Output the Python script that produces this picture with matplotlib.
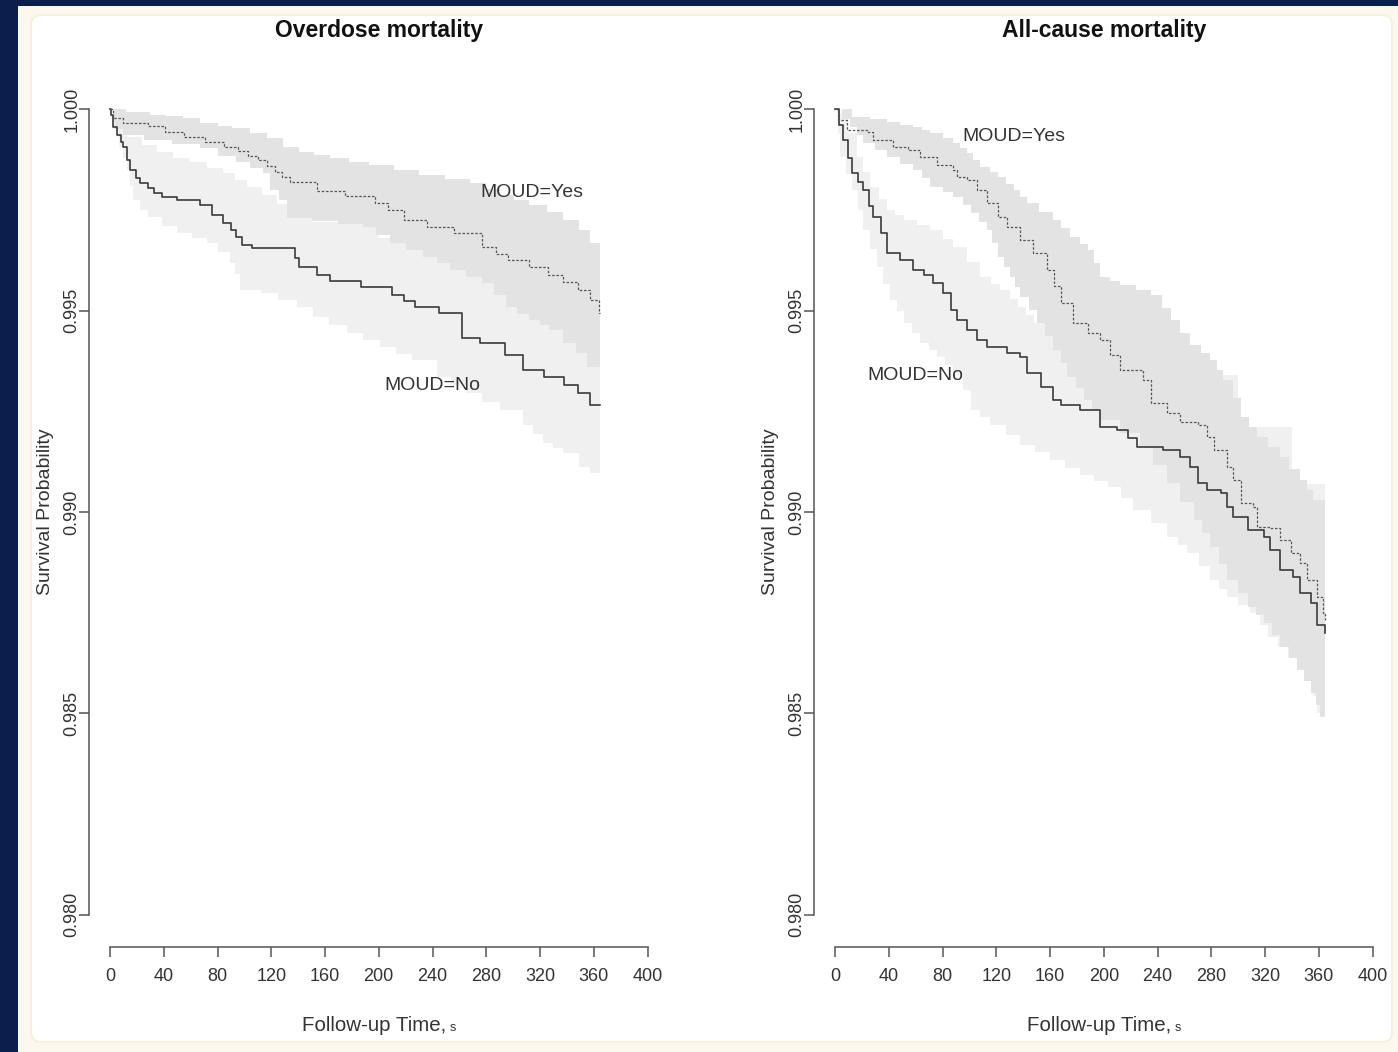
import numpy as np
import matplotlib
matplotlib.use("Agg")
import matplotlib.pyplot as plt
from matplotlib.patches import Rectangle, FancyBboxPatch

plt.rcParams['font.family'] = ['Liberation Sans', 'DejaVu Sans']

# ---- Overdose mortality (Kaplan-Meier) ----
od_yes_t = [0, 2, 10, 28, 41, 55, 71, 85, 95, 103, 110, 117, 123, 128, 134, 154, 175, 197, 207, 219,
            236, 256, 277, 287, 296, 312, 326, 337, 348, 357, 364, 365]
od_yes_s = [1.0, 0.99978, 0.99965, 0.99958, 0.99943, 0.9993, 0.99918, 0.99905, 0.99896, 0.99885,
            0.99873, 0.9986, 0.99844, 0.99832, 0.99819, 0.99797, 0.99785, 0.99767, 0.99749, 0.99725,
            0.99707, 0.99692, 0.99658, 0.9964, 0.99625, 0.99608, 0.99588, 0.99571, 0.99551, 0.99526,
            0.99494, 0.99494]
od_no_t = [0, 1, 2, 5, 8, 10, 13, 15, 19, 22, 28, 33, 39, 50, 67, 76, 84, 90, 94, 98, 106, 138, 141,
           154, 164, 187, 210, 219, 227, 245, 262, 275, 294, 307, 323, 338, 348, 357, 365]
od_no_s = [1.0, 0.99985, 0.99955, 0.99935, 0.99918, 0.99906, 0.99873, 0.99849, 0.99829, 0.99816,
           0.99804, 0.99792, 0.99782, 0.99774, 0.99762, 0.99737, 0.99717, 0.997, 0.99682, 0.99663,
           0.99655, 0.9963, 0.99608, 0.99588, 0.99573, 0.99558, 0.99538, 0.99524, 0.99509, 0.99494,
           0.99432, 0.99419, 0.9939, 0.99352, 0.99335, 0.99315, 0.99295, 0.99266, 0.99266]
# confidence bands
od_yes_up_t = [0, 12, 30, 42, 54, 67, 80, 91, 104, 117, 129, 141, 152, 164, 178, 193, 211, 230, 249,
               268, 280, 290, 301, 312, 325, 337, 349, 357, 365]
od_yes_up_s = [1.0, 0.99993, 0.99985, 0.99982, 0.99978, 0.99965, 0.99959, 0.99953, 0.9994, 0.99928,
               0.99906, 0.99893, 0.99886, 0.99878, 0.9987, 0.99861, 0.99849, 0.99836, 0.99826,
               0.99816, 0.99801, 0.99787, 0.99775, 0.99762, 0.99744, 0.99725, 0.997, 0.99667, 0.99667]
od_yes_lo_t = [0, 2, 4, 10, 25, 46, 67, 80, 94, 104, 114, 119, 126, 132, 150, 170, 188, 198, 208,
               220, 233, 243, 253, 265, 277, 286, 295, 303, 312, 320, 327, 337, 347, 355, 365]
od_yes_lo_s = [1.0, 0.9997, 0.9995, 0.99935, 0.99923, 0.99913, 0.99903, 0.99885, 0.99868, 0.99855,
               0.99841, 0.99799, 0.99775, 0.9973, 0.99722, 0.99714, 0.99707, 0.99687, 0.99667,
               0.9965, 0.99633, 0.99617, 0.996, 0.99584, 0.99568, 0.99538, 0.99509, 0.99492,
               0.99476, 0.99464, 0.99452, 0.99419, 0.99395, 0.9936, 0.99347]
od_no_up_t = [0, 4, 8, 13, 24, 35, 47, 59, 72, 84, 93, 102, 113, 124, 150, 200, 250, 300, 365]
od_no_up_s = [1.0, 0.9998, 0.9996, 0.99931, 0.9991, 0.99893, 0.9988, 0.99868, 0.99855, 0.99841,
              0.99824, 0.99806, 0.99786, 0.99765, 0.9972, 0.9968, 0.9963, 0.9958, 0.9952]
od_no_lo_t = [0, 2, 5, 7, 10, 13, 15, 17, 22, 28, 39, 50, 61, 72, 80, 89, 93, 97, 112, 125, 139, 151,
              163, 176, 188, 201, 213, 225, 243, 254, 265, 277, 290, 307, 315, 322, 330, 337, 349,
              357, 365]
od_no_lo_s = [1.0, 0.9995, 0.9993, 0.99906, 0.9988, 0.99849, 0.9981, 0.99774, 0.9975, 0.99732,
              0.9971, 0.99692, 0.9968, 0.99667, 0.99645, 0.99618, 0.9959, 0.99551, 0.99543, 0.99527,
              0.99509, 0.99484, 0.99464, 0.99444, 0.99427, 0.99409, 0.99393, 0.99377, 0.99335,
              0.99315, 0.99295, 0.99274, 0.99253, 0.99216, 0.99194, 0.99171, 0.99158, 0.99146,
              0.99112, 0.99098, 0.99084]

# ---- All-cause mortality ----
ac_yes_t = [0, 2, 9, 24, 28, 43, 54, 63, 76, 88, 91, 98, 106, 113, 121, 128, 138, 147, 158, 163, 168,
            177, 188, 197, 205, 212, 229, 235, 247, 257, 270, 277, 282, 292, 296, 302, 311, 314, 324,
            331, 339, 346, 351, 359, 363, 365]
ac_yes_s = [1.0, 0.99973, 0.99948, 0.99943, 0.99923, 0.99906, 0.99898, 0.99881, 0.99861, 0.99849,
            0.99831, 0.99824, 0.99799, 0.99767, 0.99732, 0.99707, 0.99675, 0.99643, 0.996, 0.9956,
            0.99519, 0.99469, 0.99444, 0.99427, 0.9939, 0.99352, 0.99328, 0.9927, 0.99246, 0.99223,
            0.99216, 0.99186, 0.99154, 0.99112, 0.99079, 0.99022, 0.99012, 0.98963, 0.9896, 0.9893,
            0.98898, 0.98873, 0.98831, 0.98789, 0.98749, 0.98732]
ac_no_t = [0, 3, 6, 10, 13, 17, 21, 25, 28, 34, 39, 48, 58, 66, 73, 80, 86, 91, 98, 106, 113, 128,
           138, 143, 153, 162, 168, 182, 197, 210, 218, 225, 244, 257, 264, 270, 277, 287, 292, 296,
           307, 319, 324, 331, 341, 346, 354, 359, 365]
ac_no_s = [1.0, 0.9996, 0.99923, 0.9988, 0.99841, 0.9982, 0.99799, 0.9976, 0.99732, 0.99692, 0.99643,
           0.99625, 0.996, 0.99588, 0.99568, 0.99543, 0.99501, 0.99476, 0.99452, 0.99427, 0.99409,
           0.99395, 0.99385, 0.99345, 0.9931, 0.99278, 0.99266, 0.99253, 0.99211, 0.99203, 0.99184,
           0.99161, 0.99154, 0.99136, 0.99112, 0.99072, 0.99055, 0.99047, 0.99012, 0.98988, 0.98955,
           0.98938, 0.98906, 0.98856, 0.98839, 0.98799, 0.98774, 0.9872, 0.987]
ac_yes_up_t = [0, 13, 26, 39, 48, 58, 65, 71, 80, 88, 93, 98, 103, 108, 115, 121, 127, 133, 138, 143,
               152, 162, 168, 175, 182, 188, 193, 197, 205, 212, 224, 235, 243, 250, 257, 264, 272,
               279, 284, 289, 296, 302, 308, 314, 322, 331, 338, 346, 351, 356, 365]
ac_yes_up_s = [1.0, 0.9998, 0.99975, 0.99968, 0.99962, 0.99955, 0.99948, 0.9994, 0.99928, 0.99916,
               0.99904, 0.99891, 0.99874, 0.99856, 0.99843, 0.99831, 0.99815, 0.99799, 0.99783,
               0.99767, 0.99746, 0.99725, 0.99704, 0.99682, 0.99666, 0.9965, 0.99617, 0.99583,
               0.99573, 0.99563, 0.9955, 0.99538, 0.99507, 0.99476, 0.99445, 0.99414, 0.99395,
               0.99377, 0.99352, 0.99328, 0.99282, 0.99236, 0.99211, 0.99186, 0.99161, 0.99136,
               0.99107, 0.99079, 0.99055, 0.9903, 0.99005]
ac_yes_lo_t = [0, 5, 11, 16, 21, 30, 39, 48, 58, 65, 71, 80, 88, 95, 101, 107, 113, 117, 121, 126,
               130, 134, 138, 144, 150, 156, 162, 168, 173, 179, 185, 191, 197, 212, 227, 237, 247,
               257, 267, 273, 279, 286, 292, 300, 307, 313, 319, 325, 331, 338, 344, 349, 354, 358,
               361, 365]
ac_yes_lo_s = [1.0, 0.99975, 0.99955, 0.99935, 0.99916, 0.99898, 0.99881, 0.99865, 0.99849, 0.99828,
               0.99806, 0.99794, 0.99782, 0.99762, 0.99742, 0.99721, 0.997, 0.99667, 0.99633,
               0.99608, 0.99583, 0.99558, 0.99533, 0.99501, 0.99469, 0.99436, 0.99402, 0.99369,
               0.99335, 0.99307, 0.99278, 0.99253, 0.99228, 0.99195, 0.99161, 0.99117, 0.99072,
               0.99026, 0.9898, 0.98947, 0.98913, 0.98872, 0.98831, 0.98798, 0.98764, 0.98745,
               0.98725, 0.98695, 0.98665, 0.98637, 0.98608, 0.9858, 0.98551, 0.98521, 0.98491, 0.98484]
ac_no_up_t = [0, 4, 10, 16, 21, 26, 33, 39, 45, 51, 61, 71, 80, 88, 98, 108, 116, 123, 130, 136, 142,
              148, 170, 200, 250, 300, 340, 365]
ac_no_up_s = [1.0, 0.9999, 0.9994, 0.99881, 0.99843, 0.99806, 0.99778, 0.99749, 0.99737, 0.99725,
              0.99712, 0.997, 0.99679, 0.99658, 0.9962, 0.99583, 0.99567, 0.99551, 0.9953, 0.99509,
              0.99489, 0.99469, 0.9944, 0.994, 0.9934, 0.9921, 0.9907, 0.9893]
ac_no_lo_t = [0, 2, 4, 8, 13, 17, 21, 26, 31, 36, 41, 46, 51, 57, 63, 70, 76, 82, 88, 95, 101, 108,
              115, 127, 138, 149, 160, 171, 182, 193, 203, 213, 222, 235, 247, 255, 262, 271, 279,
              286, 292, 300, 309, 316, 322, 330, 337, 345, 352, 356, 359, 365]
ac_no_lo_s = [1.0, 0.9994, 0.99881, 0.9984, 0.99799, 0.9975, 0.997, 0.99654, 0.99608, 0.99567,
              0.99526, 0.99498, 0.99469, 0.99444, 0.99419, 0.99402, 0.99385, 0.99365, 0.99345,
              0.99303, 0.99253, 0.99235, 0.99216, 0.99191, 0.99166, 0.99148, 0.99129, 0.9911,
              0.99092, 0.99077, 0.99062, 0.99034, 0.99005, 0.98972, 0.98938, 0.98918, 0.98898,
              0.98865, 0.98831, 0.9881, 0.98789, 0.98769, 0.98749, 0.9872, 0.9869, 0.98665, 0.9864,
              0.98612, 0.98583, 0.98542, 0.98501, 0.98484]

titles = ['Overdose mortality', 'All-cause mortality']
x_ticks = list(range(0, 401, 40))
y_ticks = [0.980, 0.985, 0.990, 0.995, 1.000]


def stair(t, s):
    # vertices of a right-continuous step function
    t = np.asarray(t, float)
    s = np.asarray(s, float)
    return np.repeat(t, 2)[1:], np.repeat(s, 2)[:-1]


def band(ax, tu, su, tl, sl, color):
    xu, yu = stair(tu, su)
    xl, yl = stair(tl, sl)
    ax.fill(np.r_[xu, xl[::-1]], np.r_[yu, yl[::-1]], color=color, lw=0)


fig = plt.figure(figsize=(13.98, 10.52), dpi=100)
fig.patch.set_facecolor('#0b1f4c')
fig.patches.append(Rectangle((0.18, 0), 13.8, 10.46, transform=fig.dpi_scale_trans,
                             facecolor='#fcf8ee', edgecolor='none', zorder=-3))
fig.patches.append(FancyBboxPatch((0.31, 0.10), 13.61, 10.27, transform=fig.dpi_scale_trans,
                                  boxstyle='round,pad=0,rounding_size=0.1',
                                  facecolor='white', edgecolor='#f6efe2', lw=1.5, zorder=-2))

panels = [
    (od_yes_t, od_yes_s, od_no_t, od_no_s, od_yes_up_t, od_yes_up_s, od_yes_lo_t, od_yes_lo_s,
     od_no_up_t, od_no_up_s, od_no_lo_t, od_no_lo_s, (314, 0.99794), (240, 0.99313)),
    (ac_yes_t, ac_yes_s, ac_no_t, ac_no_s, ac_yes_up_t, ac_yes_up_s, ac_yes_lo_t, ac_yes_lo_s,
     ac_no_up_t, ac_no_up_s, ac_no_lo_t, ac_no_lo_s, (133, 0.99933), (60, 0.9934)),
]
lefts = [88.5 / 1398, 813.5 / 1398]

for i, p in enumerate(panels):
    (yt, ys, nt, ns, yut, yus, ylt, yls, nut, nus, nlt, nls, pos_yes, pos_no) = p
    ax = fig.add_axes([lefts[i], 1 - 947 / 1052, 580.5 / 1398, 870 / 1052])
    ax.patch.set_alpha(0)

    band(ax, nut, nus, nlt, nls, '#f0f0f0')
    band(ax, yut, yus, ylt, yls, '#e3e3e3')
    ax.step(nt, ns, where='post', color='#3a3a3a', lw=1.2)
    ax.step(yt, ys, where='post', color='#555555', lw=0.9, linestyle=(0, (2, 1.4)))

    ax.text(*pos_yes, 'MOUD=Yes', ha='center', va='center', fontsize=14, color='#333333')
    ax.text(*pos_no, 'MOUD=No', ha='center', va='center', fontsize=14, color='#333333')

    ax.set_xlim(-16, 416)
    ax.set_ylim(0.9792, 1.0008)
    for side in ['top', 'right']:
        ax.spines[side].set_visible(False)
    ax.spines['left'].set_bounds(0.980, 1.000)
    ax.spines['bottom'].set_bounds(0, 400)
    for side in ['left', 'bottom']:
        ax.spines[side].set_color('#555555')
        ax.spines[side].set_linewidth(1.1)

    ax.set_xticks(x_ticks)
    ax.set_yticks(y_ticks)
    ax.set_yticklabels([f'{v:.3f}' for v in y_ticks], rotation=90, va='center')
    ax.tick_params(direction='out', length=7, width=1.1, color='#555555',
                   labelsize=13, labelcolor='#333333')
    ax.tick_params(axis='x', pad=8)
    ax.tick_params(axis='y', pad=-1)

    ax.set_ylabel('Survival Probability', fontsize=14, color='#333333')
    ax.yaxis.set_label_coords(-0.059, 0.5)

    tr = ax.get_xaxis_transform()
    ax.text(250, -0.0966, 'Follow-up Time,', transform=tr, ha='right', va='baseline',
            fontsize=14.8, color='#333333')
    ax.text(253, -0.0966, 's', transform=tr, ha='left', va='baseline',
            fontsize=9, color='#333333')

    ax.text(0.5, (947 - 31) / 870, titles[i], transform=ax.transAxes, ha='center', va='center',
            fontsize=16.5, fontweight='bold', color='#111111')

fig.savefig('out.png', dpi=100, facecolor=fig.get_facecolor())
